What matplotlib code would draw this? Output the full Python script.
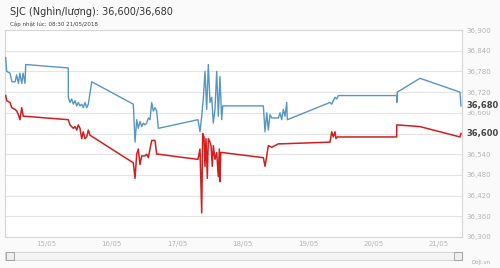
import matplotlib
matplotlib.use('Agg')
import matplotlib.pyplot as plt
from matplotlib.patches import Rectangle

# ngay (so ngay trong thang 5, co phan le) va gia (nghin/luong)
blue_days = [14.385, 14.40, 14.45, 14.48, 14.53, 14.55, 14.58, 14.60, 14.63, 14.65, 14.68,
             14.69, 15.34, 15.341, 15.366, 15.392, 15.417, 15.443, 15.469, 15.493, 15.519,
             15.545, 15.569, 15.595, 15.621, 15.646, 15.698, 16.333, 16.359, 16.385, 16.409,
             16.435, 16.461, 16.485, 16.511, 16.537, 16.562, 16.588, 16.614, 16.638, 16.664,
             16.690, 16.715, 17.32, 17.351, 17.377, 17.401, 17.427, 17.453, 17.478, 17.504,
             17.530, 17.554, 17.580, 17.606, 17.631, 17.656, 17.682, 17.698, 18.318, 18.344,
             18.37, 18.394, 18.42, 18.446, 18.547, 18.573, 18.598, 18.623, 18.649, 18.675,
             18.684, 19.336, 19.362, 19.412, 19.438, 19.463, 20.354, 20.355, 20.363, 20.71,
             21.32, 21.336]
blue_vals = [36820, 36780, 36775, 36750, 36750, 36770, 36745, 36775, 36745, 36775, 36745,
             36800, 36790, 36705, 36690, 36700, 36685, 36695, 36680, 36690, 36680,
             36685, 36675, 36690, 36675, 36685, 36750, 36685, 36575, 36640, 36615,
             36635, 36620, 36630, 36625, 36630, 36645, 36640, 36690, 36665, 36675,
             36665, 36615, 36640, 36605, 36650, 36700, 36780, 36670, 36800, 36690,
             36705, 36630, 36670, 36780, 36650, 36765, 36640, 36680, 36680, 36605,
             36660, 36610, 36655, 36645, 36645, 36660, 36640, 36670, 36650, 36690,
             36640, 36690, 36685, 36705, 36700, 36710, 36710, 36690, 36720, 36760,
             36720, 36680]

red_days = [14.385, 14.40, 14.45, 14.476, 14.527, 14.553, 14.577, 14.603, 14.629, 14.653,
            14.679, 15.34, 15.366, 15.417, 15.443, 15.469, 15.493, 15.519, 15.545, 15.569,
            15.595, 15.621, 15.646, 15.672, 16.333, 16.359, 16.385, 16.409, 16.435, 16.461,
            16.511, 16.537, 16.562, 16.614, 16.664, 16.690, 16.715, 17.32, 17.351, 17.377,
            17.392, 17.412, 17.427, 17.443, 17.463, 17.478, 17.504, 17.519, 17.539, 17.554,
            17.580, 17.606, 17.631, 17.646, 17.656, 17.667, 17.682, 18.318, 18.344, 18.37,
            18.394, 18.446, 18.496, 18.547, 18.583, 19.336, 19.362, 19.386, 19.412, 19.427,
            19.447, 20.354, 20.355, 20.71, 21.32, 21.336]
red_vals = [36710, 36695, 36690, 36675, 36670, 36665, 36655, 36640, 36675, 36650,
            36650, 36640, 36625, 36615, 36620, 36610, 36625, 36615, 36585, 36605,
            36585, 36590, 36610, 36595, 36515, 36470, 36540, 36555, 36510, 36535,
            36535, 36540, 36530, 36580, 36580, 36540, 36540, 36525, 36555, 36370,
            36600, 36590, 36505, 36585, 36470, 36585, 36575, 36565, 36505, 36565,
            36525, 36545, 36475, 36555, 36460, 36545, 36545, 36530, 36505, 36535,
            36565, 36560, 36565, 36570, 36570, 36575, 36605, 36590, 36605, 36585,
            36590, 36590, 36625, 36620, 36590, 36600]

tick_days = [15, 16, 17, 18, 19, 20, 21]
tick_labels = ['15/05', '16/05', '17/05', '18/05', '19/05', '20/05', '21/05']
y_ticks = [36300, 36360, 36420, 36480, 36540, 36600, 36660, 36720, 36780, 36840, 36900]

BLUE = '#5597c2'
RED = '#d11f1f'
GRID = '#e4e4e4'
LABEL = '#b5b5b5'
BG = '#fafafa'

fig = plt.figure(figsize=(5, 2.68), dpi=100)
fig.patch.set_facecolor(BG)
ax = fig.add_axes([0.01, 0.1157, 0.914, 0.7723])
ax.set_facecolor('white')

ax.plot(blue_days, blue_vals, color=BLUE, lw=1.0, zorder=3)
ax.plot(red_days, red_vals, color=RED, lw=1.1, zorder=3)

last_vals = [blue_vals[-1], red_vals[-1]]

ax.set_xlim(14.374, 21.351)
ax.set_ylim(36300, 36900)
ax.set_yticks(y_ticks)
ax.yaxis.tick_right()
# nhan trung voi gia hien tai thi bo trong (gia hien tai ve dam o duoi)
ax.set_yticklabels(['' if v in last_vals else '{:,}'.format(v) for v in y_ticks])
ax.set_xticks(tick_days)
ax.set_xticklabels(tick_labels)
ax.tick_params(axis='both', length=0, labelsize=5, labelcolor=LABEL)
ax.tick_params(axis='y', pad=3)
ax.tick_params(axis='x', pad=3)
ax.grid(axis='y', color=GRID, lw=0.8)
for s in ax.spines.values():
    s.set_color('#d6d6d6')
    s.set_linewidth(0.8)

# gia hien tai
for v in last_vals:
    ax.text(1.009, (v - 36300) / 600, '{:,}'.format(v), transform=ax.transAxes,
            fontsize=6, fontweight='bold', color='#444444', va='center', ha='left',
            bbox=dict(boxstyle='square,pad=0.1', facecolor=BG, edgecolor='none'), zorder=5)

fig.text(0.02, 0.955, 'SJC (Nghìn/lượng): 36,600/36,680', fontsize=7, color='#333333',
         va='center', ha='left')
fig.text(0.02, 0.91, 'Cập nhật lúc: 08:30 21/05/2018', fontsize=4, color='#444444',
         va='center', ha='left')

# thanh cuon
fig.patches.append(Rectangle((0.01, 0.028), 0.914, 0.032, transform=fig.transFigure,
                             facecolor='#f4f4f4', edgecolor='#d0d0d0', lw=0.6))
fig.patches.append(Rectangle((0.011, 0.03), 0.016, 0.028, transform=fig.transFigure,
                             facecolor='#eeeeee', edgecolor='#999999', lw=0.6))
fig.patches.append(Rectangle((0.907, 0.03), 0.016, 0.028, transform=fig.transFigure,
                             facecolor='#eeeeee', edgecolor='#999999', lw=0.6))
fig.text(0.962, 0.02, 'Doji.vn', fontsize=4, color='#aaaaaa', ha='center', va='center')

fig.savefig('out.png', dpi=100, facecolor=fig.get_facecolor())
